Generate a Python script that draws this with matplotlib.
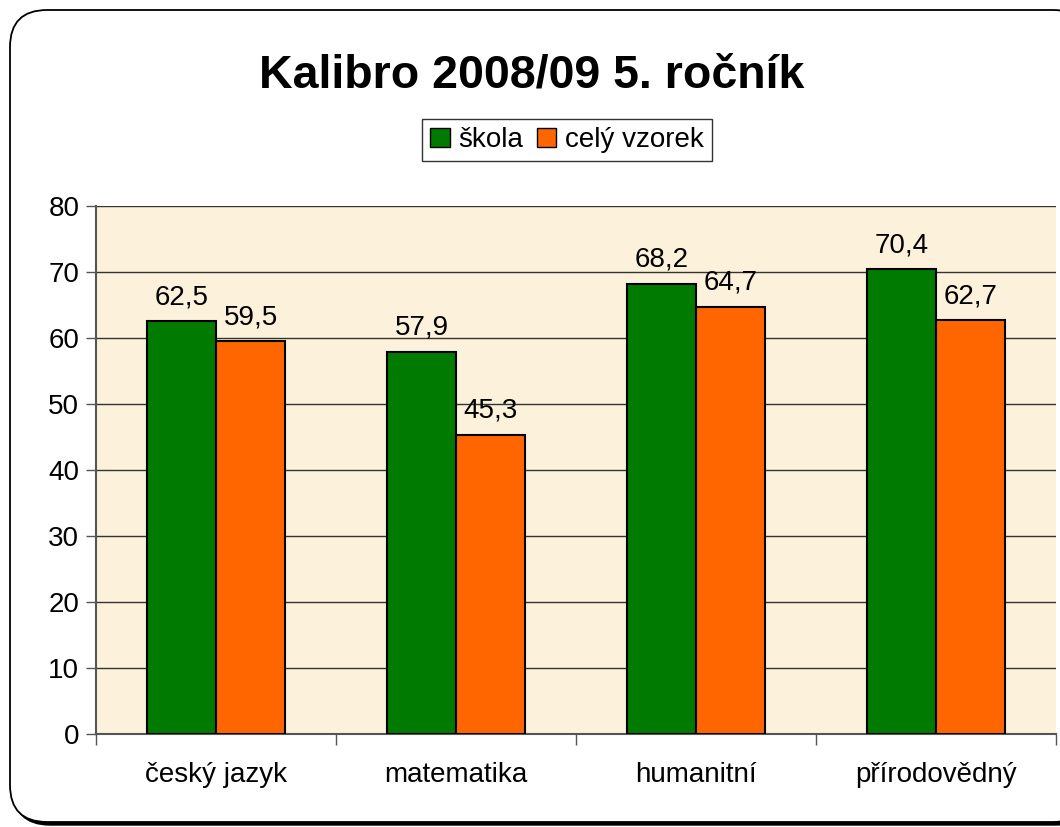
import matplotlib
matplotlib.use("Agg")
import matplotlib.pyplot as plt
import numpy as np
from matplotlib.patches import FancyBboxPatch, Patch

# Data
categories = ['český jazyk', 'matematika', 'humanitní', 'přírodovědný']
skola = [62.5, 57.9, 68.2, 70.4]
cely_vzorek = [59.5, 45.3, 64.7, 62.7]
series_names = ['škola', 'celý vzorek']
colors = ['#007A00', '#FF6600']

plt.rcParams['font.family'] = ['Liberation Sans', 'DejaVu Sans']

W, H = 1060, 827
fig = plt.figure(figsize=(W / 100, H / 100), dpi=100)
fig.patch.set_facecolor('white')

# Rounded frame with shadow
shadow = FancyBboxPatch((13 / W, 2 / H), 1080 / W, 814 / H,
                        boxstyle="round,pad=0,rounding_size=0.035",
                        transform=fig.transFigure, facecolor='black',
                        edgecolor='black', zorder=0, mutation_aspect=W / H)
frame = FancyBboxPatch((10 / W, 5 / H), 1080 / W, 812 / H,
                       boxstyle="round,pad=0,rounding_size=0.035",
                       transform=fig.transFigure, facecolor='white',
                       edgecolor='black', linewidth=1.3, zorder=1,
                       mutation_aspect=W / H)
fig.patches.extend([shadow, frame])

ax = fig.add_axes([96 / W, (H - 734) / H, 960 / W, 528 / H], zorder=2)
ax.set_facecolor('#FCF1DA')

x = np.arange(len(categories))
bw = 0.2875
b1 = ax.bar(x - bw / 2, skola, bw, color=colors[0], edgecolor='black',
            linewidth=1.5, zorder=3)
b2 = ax.bar(x + bw / 2, cely_vzorek, bw, color=colors[1], edgecolor='black',
            linewidth=1.5, zorder=3)

for bars, vals in [(b1, skola), (b2, cely_vzorek)]:
    for rect, v in zip(bars, vals):
        ax.annotate(f"{v:.1f}".replace('.', ','),
                    (rect.get_x() + rect.get_width() / 2, v),
                    xytext=(0, 8), textcoords='offset points',
                    ha='center', va='bottom', fontsize=20, zorder=4)

ax.set_xlim(-0.5, len(categories) - 0.5)
ax.set_ylim(0, 80)
ax.set_yticks(range(0, 81, 10))
ax.tick_params(axis='y', labelsize=20, length=7, width=1, color='#555555',
               pad=5)
ax.set_xticks(x)
ax.set_xticklabels(categories)
ax.tick_params(axis='x', length=0, labelsize=20, pad=20)
ax.set_xticks(np.arange(-0.5, len(categories)), minor=True)
ax.tick_params(axis='x', which='minor', length=8, width=1, color='#555555')

ax.grid(axis='y', color='#333333', linewidth=1, zorder=1)
ax.set_axisbelow(True)
for s in ['top', 'right']:
    ax.spines[s].set_visible(False)
for s in ['left', 'bottom']:
    ax.spines[s].set_color('#555555')
    ax.spines[s].set_linewidth(1.5)

fig.text(532 / W, 1 - 75 / H, 'Kalibro 2008/09 5. ročník', ha='center',
         va='center', fontsize=33.5, fontweight='bold', zorder=5)

handles = [Patch(facecolor=colors[0], edgecolor='black'),
           Patch(facecolor=colors[1], edgecolor='black')]
leg = fig.legend(handles, series_names, loc='center',
                 bbox_to_anchor=(567 / W, 1 - 140 / H), ncol=2,
                 fontsize=20, frameon=True, fancybox=False,
                 edgecolor='black', handlelength=0.7, handleheight=0.7,
                 handletextpad=0.3, columnspacing=0.5, borderpad=0.3,
                 borderaxespad=0)
leg.get_frame().set_linewidth(1.0)
leg.set_zorder(5)

fig.savefig('out.png', dpi=100)
